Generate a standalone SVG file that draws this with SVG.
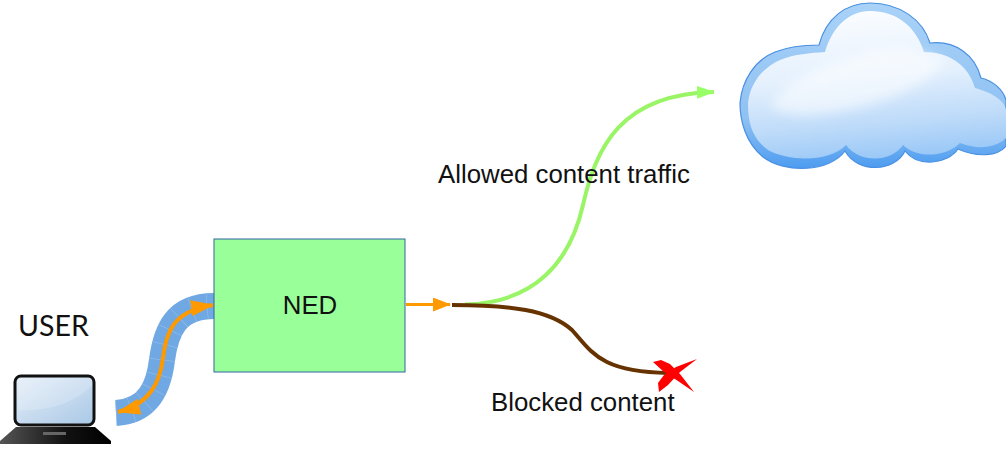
<svg xmlns="http://www.w3.org/2000/svg" width="1006" height="453" viewBox="0 0 1006 453">
<style>
.lbl{font-family:"Liberation Sans",Arial,sans-serif;font-size:25.800px;fill:#111}
.wire{fill:none;stroke-linecap:butt}
</style>
<defs>
<marker id="hO" markerUnits="userSpaceOnUse" markerWidth="18" markerHeight="14" refX="17" refY="7" orient="auto-start-reverse"><path d="M0,0L18,7L0,14Z" fill="#ff9900"/></marker>
<marker id="hB" markerUnits="userSpaceOnUse" markerWidth="23" markerHeight="16" refX="22" refY="8" orient="auto-start-reverse"><path d="M0,0L23,8L0,16Z" fill="#ff9900"/></marker>
<marker id="hG" markerUnits="userSpaceOnUse" markerWidth="18" markerHeight="13" refX="17" refY="6.500" orient="auto"><path d="M0,0L18,6.500L0,13Z" fill="#99ff66"/></marker>
<linearGradient id="screen" x1="0" y1="0" x2="1" y2="1"><stop offset="0" stop-color="#e6eff9"/><stop offset="1" stop-color="#a9c8e6"/></linearGradient>
<linearGradient id="deck" x1="0" y1="0" x2="1" y2="0"><stop offset="0" stop-color="#555"/><stop offset=".6" stop-color="#111"/><stop offset="1" stop-color="#000"/></linearGradient>
<linearGradient id="rim" x1="0" y1="0" x2="0" y2="1"><stop offset="0" stop-color="#a9d2f7"/><stop offset=".7" stop-color="#8fc1f3"/><stop offset="1" stop-color="#4d9cf0"/></linearGradient>
<linearGradient id="body" x1="0.35" y1="0" x2="0.5" y2="1"><stop offset="0" stop-color="#fbfdff"/><stop offset=".45" stop-color="#e4f0fd"/><stop offset=".78" stop-color="#bcdaf9"/><stop offset="1" stop-color="#9ac8f7"/></linearGradient>
<filter id="soft" x="-20%" y="-40%" width="140%" height="180%"><feGaussianBlur stdDeviation="6"/></filter>
<path id="cloudShape" d="M819,45C826,18 846,3 870,3C900,3 923,20 930,43C955,40 975,55 981,78C994,81 1003,90 1006,100L1006,146C998,156 978,158 958,149C948,164 918,168 905,151C895,172 858,174 845,151C830,172 785,174 763,157C745,142 740,120 740,103C742,80 755,60 775,52C790,46 805,45 819,45Z"/>
</defs>

<g id="connectors">
<path class="wire" d="M116,413C150,411 159,385 162,360C166,330 176,306 214,306" stroke="#6fa8e2" stroke-width="26"/>
<path class="wire" d="M116,413C150,411 159,385 162,360C166,330 176,306 214,306" stroke="#9cc2ec" stroke-width="26" stroke-dasharray="0.500 15"/>
<path class="wire" d="M118,412C150,404 160,382 163,358C166,332 173,311 213,305" stroke="#ff9900" stroke-width="4" marker-start="url(#hB)" marker-end="url(#hB)"/>
<path class="wire" d="M406,304.500L450,304.500" stroke="#ff9900" stroke-width="3.200" marker-end="url(#hO)"/>
<path class="wire" d="M465,304.500C535,303 570,262 583,205C596,148 620,94 714,92" stroke="#99f566" stroke-width="4" marker-end="url(#hG)"/>
<path class="wire" d="M452,305C510,305 550,310 572,330C592,352 600,372 668,373" stroke="#663300" stroke-width="4"/>
</g>

<g id="user">
<text x="18" y="336" style="font-family:Lato,'Liberation Sans',sans-serif;font-size:28.500px;fill:#111">USER</text>
<rect x="15" y="376" width="79" height="49" rx="6" fill="url(#screen)" stroke="#111" stroke-width="3"/>
<path d="M18,410C50,412 80,400 92,385L92,380Q92,378 88,378L22,378Q18,378 18,382Z" fill="#fff" opacity=".18"/>
<path d="M16,427L95,427L111,441L111,444L0,444L0,441Z" fill="url(#deck)"/>
<rect x="43" y="432" width="23" height="3" fill="#666"/>
</g>

<g id="ned">
<rect x="214" y="239" width="191" height="133" fill="#99ff99" stroke="#3465a4" stroke-width="1"/>
<text class="lbl" x="310" y="314" text-anchor="middle">NED</text>
</g>

<g id="cloud">
<use href="#cloudShape" fill="url(#rim)" stroke="#4a90e2" stroke-width="1.200"/>
<path d="M825,52C832,28 848,11 870,11C896,11 916,26 924,52C948,52 968,64 975,88C990,92 1005,100 1006,110L1006,138C996,148 978,150 960,143C948,156 918,160 903,145C892,162 860,164 846,145C830,162 790,162 768,150C750,137 748,118 748,103C750,84 762,68 780,60C795,54 810,53 825,52Z" fill="url(#body)"/>
<path d="M770,104C790,78 830,62 875,50C900,45 925,50 945,62C925,85 880,108 820,114C795,117 775,112 770,104Z" fill="#fff" opacity=".55" filter="url(#soft)"/>
</g>

<g id="blocked">
<path d="M653,362L661,360L670,364L680,374L694,392L678,381L664,372Z" fill="#ff0000"/>
<path d="M697,359L680,372L668,385L659,392L658,383L664,375L676,367Z" fill="#ff0000"/>
<text class="lbl" x="491" y="411">Blocked content</text>
</g>

<text class="lbl" x="438" y="183">Allowed content traffic</text>
</svg>
